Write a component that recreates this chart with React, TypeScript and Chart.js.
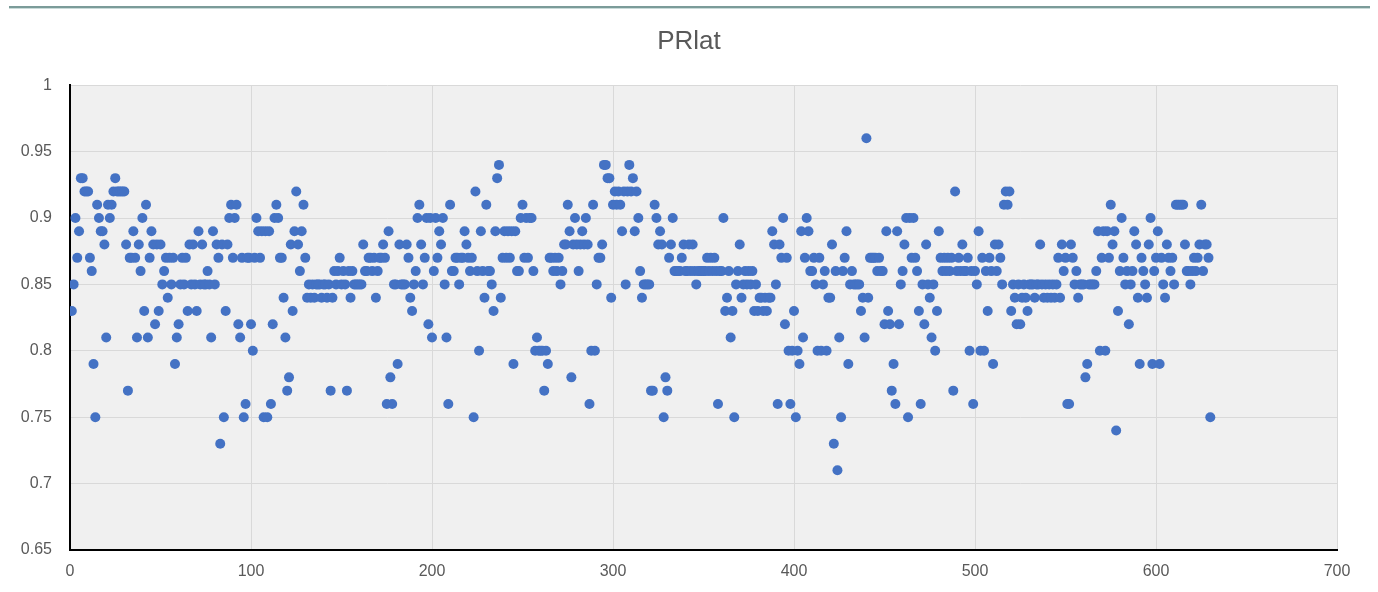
import { useEffect, useRef } from "react";
import { Chart, registerables } from "chart.js";

Chart.register(...registerables);

const TITLE = "PRlat";

// PRlat values, one per sample (sample number = position + 1)
const prlat: number[] = [
  0.83, 0.85, 0.90, 0.87, 0.89, 0.93, 0.93, 0.92, 0.92, 0.92,
  0.87, 0.86, 0.79, 0.75, 0.91, 0.90, 0.89, 0.89, 0.88, 0.81,
  0.91, 0.90, 0.91, 0.92, 0.93, 0.92, 0.92, 0.92, 0.92, 0.92,
  0.88, 0.77, 0.87, 0.87, 0.89, 0.87, 0.81, 0.88, 0.86, 0.90,
  0.83, 0.91, 0.81, 0.87, 0.89, 0.88, 0.82, 0.88, 0.83, 0.88,
  0.85, 0.86, 0.87, 0.84, 0.87, 0.85, 0.87, 0.79, 0.81, 0.82,
  0.85, 0.87, 0.85, 0.87, 0.83, 0.88, 0.85, 0.88, 0.85, 0.83,
  0.89, 0.85, 0.88, 0.85, 0.85, 0.86, 0.85, 0.81, 0.89, 0.85,
  0.88, 0.87, 0.73, 0.88, 0.75, 0.83, 0.88, 0.90, 0.91, 0.87,
  0.90, 0.91, 0.82, 0.81, 0.87, 0.75, 0.76, 0.87, 0.87, 0.82,
  0.80, 0.87, 0.90, 0.89, 0.87, 0.89, 0.75, 0.89, 0.75, 0.89,
  0.76, 0.82, 0.90, 0.91, 0.90, 0.87, 0.87, 0.84, 0.81, 0.77,
  0.78, 0.88, 0.83, 0.89, 0.92, 0.88, 0.86, 0.89, 0.91, 0.87,
  0.84, 0.85, 0.84, 0.85, 0.84, 0.85, 0.85, 0.85, 0.84, 0.85,
  0.85, 0.84, 0.85, 0.77, 0.84, 0.86, 0.85, 0.86, 0.87, 0.85,
  0.86, 0.85, 0.77, 0.86, 0.84, 0.86, 0.85, 0.85, 0.85, 0.85,
  0.85, 0.88, 0.86, 0.86, 0.87, 0.87, 0.86, 0.87, 0.84, 0.86,
  0.87, 0.87, 0.88, 0.87, 0.76, 0.89, 0.78, 0.76, 0.85, 0.85,
  0.79, 0.88, 0.85, 0.85, 0.85, 0.88, 0.87, 0.84, 0.83, 0.85,
  0.86, 0.90, 0.91, 0.88, 0.85, 0.87, 0.90, 0.82, 0.90, 0.81,
  0.86, 0.90, 0.87, 0.89, 0.88, 0.90, 0.85, 0.81, 0.76, 0.91,
  0.86, 0.86, 0.87, 0.87, 0.85, 0.87, 0.87, 0.89, 0.88, 0.87,
  0.86, 0.87, 0.75, 0.92, 0.86, 0.80, 0.89, 0.86, 0.84, 0.91,
  0.86, 0.86, 0.85, 0.83, 0.89, 0.93, 0.94, 0.84, 0.87, 0.89,
  0.87, 0.89, 0.87, 0.89, 0.79, 0.89, 0.86, 0.86, 0.90, 0.91,
  0.87, 0.90, 0.87, 0.90, 0.90, 0.86, 0.80, 0.81, 0.80, 0.80,
  0.80, 0.77, 0.80, 0.79, 0.87, 0.87, 0.86, 0.87, 0.86, 0.87,
  0.85, 0.86, 0.88, 0.88, 0.91, 0.89, 0.78, 0.88, 0.90, 0.88,
  0.86, 0.88, 0.89, 0.88, 0.90, 0.88, 0.76, 0.80, 0.91, 0.80,
  0.85, 0.87, 0.87, 0.88, 0.94, 0.94, 0.93, 0.93, 0.84, 0.91,
  0.92, 0.91, 0.92, 0.91, 0.89, 0.92, 0.85, 0.92, 0.94, 0.92,
  0.93, 0.89, 0.92, 0.90, 0.86, 0.84, 0.85, 0.85, 0.85, 0.85,
  0.77, 0.77, 0.91, 0.90, 0.88, 0.89, 0.88, 0.75, 0.78, 0.77,
  0.87, 0.88, 0.90, 0.86, 0.86, 0.86, 0.86, 0.87, 0.88, 0.86,
  0.86, 0.88, 0.86, 0.88, 0.86, 0.85, 0.86, 0.86, 0.86, 0.86,
  0.86, 0.87, 0.86, 0.87, 0.86, 0.87, 0.86, 0.76, 0.86, 0.86,
  0.90, 0.83, 0.84, 0.86, 0.81, 0.83, 0.75, 0.85, 0.86, 0.88,
  0.84, 0.85, 0.86, 0.85, 0.86, 0.85, 0.86, 0.83, 0.85, 0.83,
  0.84, 0.84, 0.83, 0.84, 0.83, 0.84, 0.84, 0.89, 0.88, 0.85,
  0.76, 0.88, 0.87, 0.90, 0.82, 0.87, 0.80, 0.76, 0.80, 0.83,
  0.75, 0.80, 0.79, 0.89, 0.81, 0.87, 0.90, 0.89, 0.86, 0.86,
  0.87, 0.85, 0.80, 0.87, 0.80, 0.85, 0.86, 0.80, 0.84, 0.84,
  0.88, 0.73, 0.86, 0.71, 0.81, 0.75, 0.86, 0.87, 0.89, 0.79,
  0.85, 0.86, 0.85, 0.85, 0.85, 0.85, 0.83, 0.84, 0.81, 0.96,
  0.84, 0.87, 0.87, 0.87, 0.87, 0.86, 0.87, 0.86, 0.86, 0.82,
  0.89, 0.83, 0.82, 0.77, 0.79, 0.76, 0.89, 0.82, 0.85, 0.86,
  0.88, 0.90, 0.75, 0.90, 0.87, 0.90, 0.87, 0.86, 0.83, 0.76,
  0.85, 0.82, 0.88, 0.85, 0.84, 0.81, 0.85, 0.80, 0.83, 0.89,
  0.87, 0.86, 0.87, 0.86, 0.87, 0.86, 0.87, 0.77, 0.92, 0.86,
  0.87, 0.86, 0.88, 0.86, 0.86, 0.87, 0.80, 0.86, 0.76, 0.86,
  0.85, 0.89, 0.80, 0.87, 0.80, 0.86, 0.83, 0.87, 0.86, 0.79,
  0.88, 0.86, 0.88, 0.87, 0.85, 0.91, 0.92, 0.91, 0.92, 0.83,
  0.85, 0.84, 0.82, 0.85, 0.82, 0.84, 0.85, 0.84, 0.83, 0.85,
  0.85, 0.85, 0.84, 0.85, 0.85, 0.88, 0.85, 0.84, 0.85, 0.84,
  0.85, 0.84, 0.85, 0.84, 0.85, 0.87, 0.84, 0.88, 0.86, 0.87,
  0.76, 0.76, 0.88, 0.87, 0.85, 0.86, 0.84, 0.85, 0.85, 0.85,
  0.78, 0.79, 0.85, 0.85, 0.85, 0.85, 0.86, 0.89, 0.80, 0.87,
  0.89, 0.80, 0.89, 0.87, 0.91, 0.88, 0.89, 0.74, 0.83, 0.86,
  0.90, 0.87, 0.85, 0.86, 0.82, 0.85, 0.86, 0.89, 0.88, 0.84,
  0.79, 0.87, 0.86, 0.85, 0.84, 0.88, 0.90, 0.79, 0.86, 0.87,
  0.89, 0.79, 0.87, 0.85, 0.84, 0.88, 0.87, 0.86, 0.87, 0.85,
  0.91, 0.91, 0.91, 0.91, 0.91, 0.88, 0.86, 0.86, 0.85, 0.86,
  0.87, 0.86, 0.87, 0.88, 0.91, 0.86, 0.88, 0.88, 0.87, 0.75,
];

const xTickValues = [0, 100, 200, 300, 400, 500, 600, 700];
const yTickValues = [0.65, 0.7, 0.75, 0.8, 0.85, 0.9, 0.95, 1];
const yTickLabels = ["0.65", "0.7", "0.75", "0.8", "0.85", "0.9", "0.95", "1"];

const FONT = "'Liberation Sans', Arial, sans-serif";
const TEXT_COLOR = "#595959";

const plotBackground = {
  id: "plotBackground",
  beforeDraw(chart: any) {
    const { ctx, chartArea } = chart;
    if (!chartArea) return;
    ctx.save();
    ctx.fillStyle = "#f0f0f0";
    ctx.fillRect(chartArea.left, chartArea.top, chartArea.right - chartArea.left, chartArea.bottom - chartArea.top);
    ctx.restore();
  },
};

export default function App() {
  const canvasRef = useRef<HTMLCanvasElement | null>(null);

  useEffect(() => {
    document.body.style.margin = "0";
    const canvas = canvasRef.current;
    if (!canvas) return;
    const points = prlat.map((v, i) => ({ x: i + 1, y: v }));
    const chart = new Chart(canvas, {
      type: "scatter",
      data: {
        datasets: [
          {
            label: TITLE,
            data: points,
            xAxisID: "x",
            yAxisID: "y",
            pointRadius: 5,
            pointHoverRadius: 5,
            pointBackgroundColor: "#4472C4",
            pointBorderColor: "#4472C4",
            pointBorderWidth: 0,
            showLine: false,
          },
        ],
      },
      options: {
        responsive: false,
        animation: false,
        events: [],
        layout: { padding: 0 },
        plugins: {
          legend: { display: false },
          tooltip: { enabled: false },
          title: {
            display: true,
            text: TITLE,
            color: TEXT_COLOR,
            font: { size: 26, weight: "normal", family: FONT },
            padding: { top: 26, bottom: 28 },
          },
        },
        scales: {
          x: {
            type: "linear",
            min: xTickValues[0],
            max: xTickValues[xTickValues.length - 1],
            afterBuildTicks(scale: any) {
              scale.ticks = xTickValues.map((v) => ({ value: v }));
            },
            afterFit(scale: any) {
              scale.height = 42;
            },
            ticks: {
              color: TEXT_COLOR,
              font: { size: 16, family: FONT },
              padding: 12,
              maxRotation: 0,
              callback: (v: any) => String(v),
            },
            grid: { color: "#d9d9d9", lineWidth: 1, drawTicks: false },
            border: { color: "#000000", width: 2 },
          },
          y: {
            type: "linear",
            position: "left",
            min: yTickValues[0],
            max: yTickValues[yTickValues.length - 1],
            afterBuildTicks(scale: any) {
              scale.ticks = yTickValues.map((v) => ({ value: v }));
            },
            afterFit(scale: any) {
              scale.width = 70;
            },
            ticks: {
              color: TEXT_COLOR,
              font: { size: 16, family: FONT },
              padding: 18,
              callback: (v: any) => {
                const idx = yTickValues.findIndex((t) => Math.abs(t - Number(v)) < 1e-6);
                return idx >= 0 ? yTickLabels[idx] : "";
              },
            },
            grid: { color: "#d9d9d9", lineWidth: 1, drawTicks: false },
            border: { color: "#000000", width: 2 },
          },
          rightSpacer: {
            type: "linear",
            position: "right",
            min: 0,
            max: 1,
            display: true,
            afterFit(scale: any) {
              scale.width = 41;
            },
            ticks: { display: false },
            grid: { display: false, drawTicks: false },
            border: { display: false },
          },
        },
      },
      plugins: [plotBackground],
    });
    return () => chart.destroy();
  }, []);

  return (
    <div style={{ position: "relative", width: 1378, height: 592, background: "#ffffff" }}>
      <canvas
        ref={canvasRef}
        width={1378}
        height={592}
        style={{ display: "block", width: 1378, height: 592 }}
      />
      <div
        style={{
          position: "absolute",
          left: 9,
          top: 6,
          width: 1361,
          height: 2,
          background: "#7b9b99",
          borderBottom: "1px solid #c9dbd9",
        }}
      />
    </div>
  );
}
